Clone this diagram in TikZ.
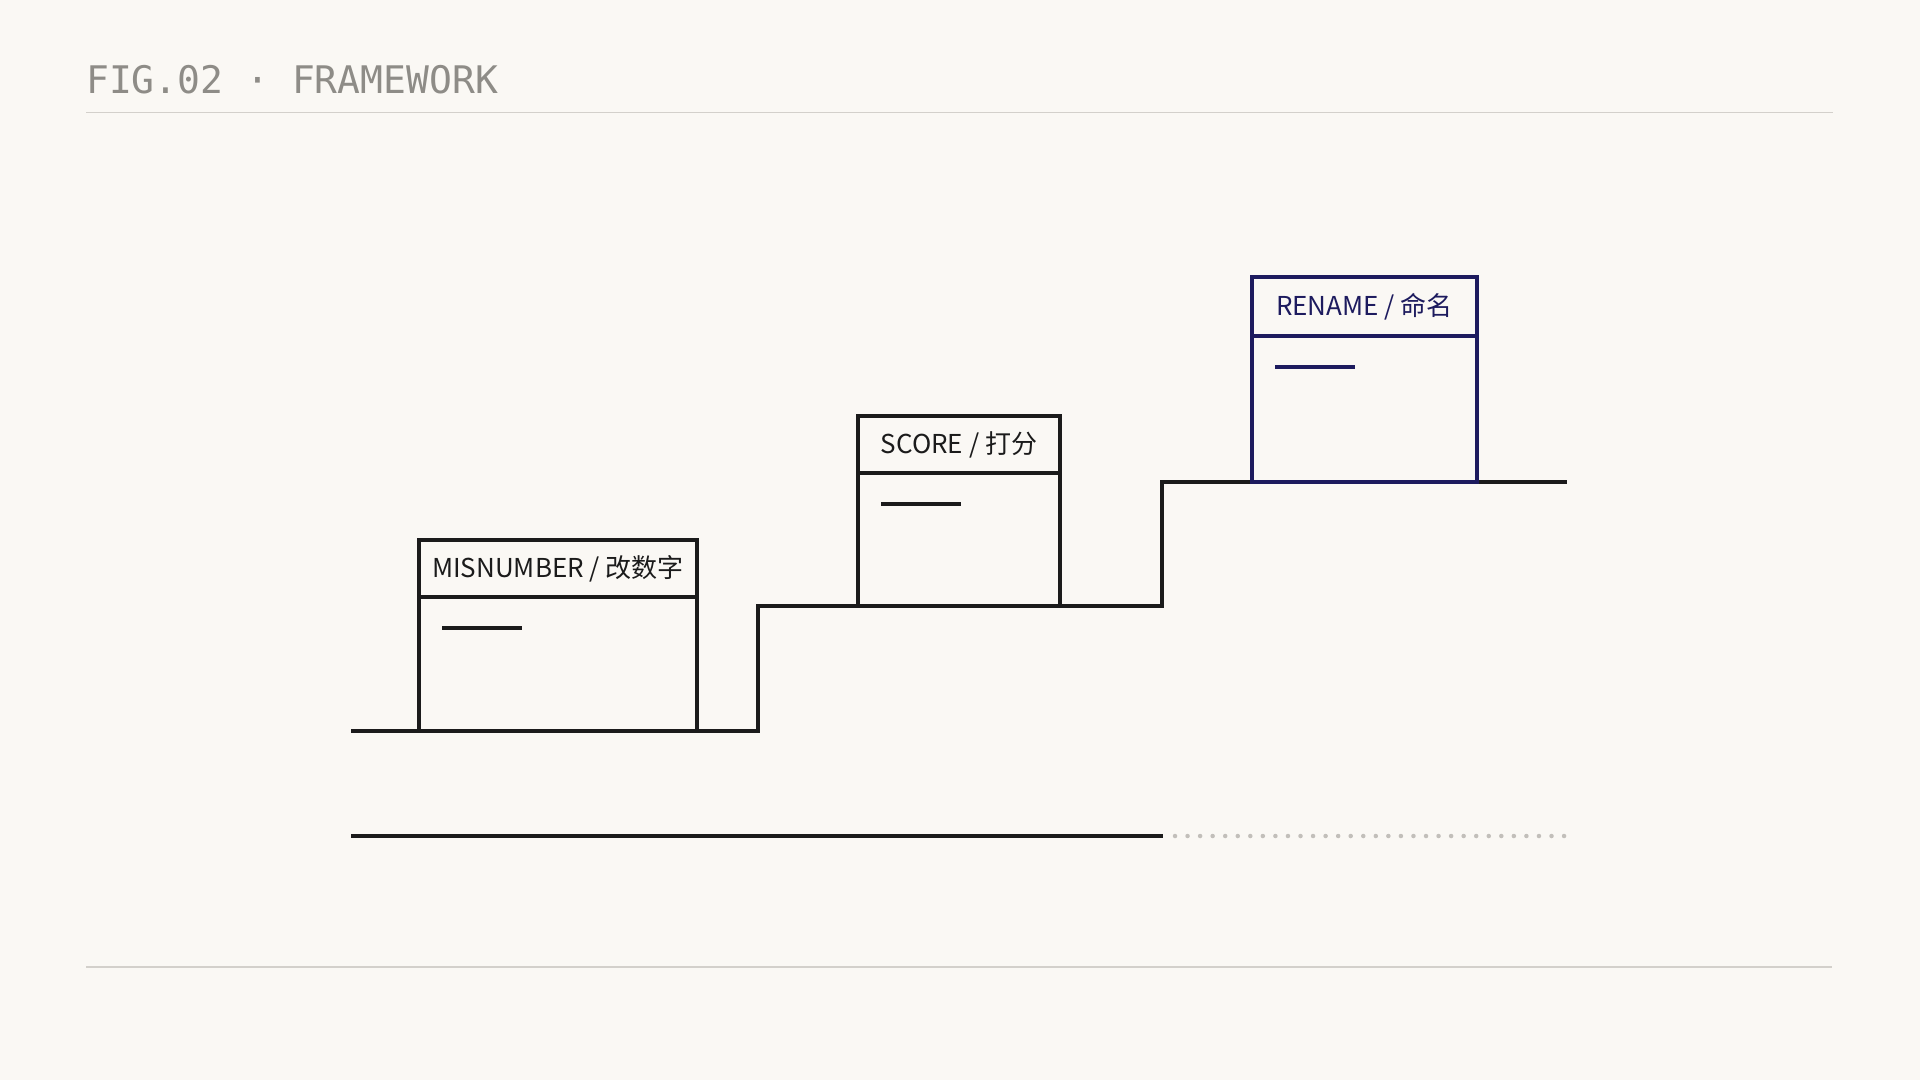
\documentclass[tikz,border=0pt]{standalone}
\usepackage{fontspec}
\setmonofont{DejaVu Sans Mono}
\newfontfamily\cjk{Noto Sans CJK SC}
\usetikzlibrary{positioning}
\definecolor{fond}{HTML}{FAF8F4}
\definecolor{encre}{HTML}{1B1B1B}
\definecolor{marine}{HTML}{1D1B5E}
\definecolor{grisTitre}{HTML}{8E8C87}
\definecolor{regle}{HTML}{D3D0CB}
\definecolor{pointille}{HTML}{C2BFBA}

\begin{document}
\begin{tikzpicture}[x=1pt,y=-1pt]
 % style des noeuds
  \tikzstyle{titre}=[anchor=base west,inner sep=0pt,text=grisTitre,font=\ttfamily\fontsize{38}{44}\selectfont]
  \tikzstyle{entete}=[rectangle,draw=encre,line width=3.4pt,inner sep=0pt,outer sep=0pt,anchor=north west,minimum height=57pt,font=\cjk\fontsize{26}{30}\selectfont,text=encre]
  \tikzstyle{corps}=[rectangle,draw=encre,line width=3.4pt,inner sep=0pt,outer sep=0pt,anchor=north]
 % style des traits
  \tikzstyle{marche}=[draw=encre,line width=3.4pt]
  \tikzstyle{trait}=[draw=encre,line width=3.4pt]
  \tikzstyle{regles}=[draw=regle,line width=1.2pt]
 % fond et cadre
  \fill[fond] (0,0) rectangle (1920,1080);
  \useasboundingbox (0,0) rectangle (1920,1080);
 % titre et regles
  \node[titre] (titre) at (86,93) {FIG.02 · FRAMEWORK};
  \coordinate (rh0) at (86,112.5);
  \coordinate (rh1) at (1833,112.5);
  \coordinate (rb0) at (86,967);
  \coordinate (rb1) at (1832,967);
  \draw[regles] (rh0) -- (rh1);
  \draw[regles] (rb0) -- (rb1);
 % escalier
  \coordinate (depart) at (351,731);
  \coordinate (palier1) at (758,606);
  \coordinate (palier2) at (1162,482);
  \coordinate (fin) at (1567,482);
  \draw[marche] (depart) -| (palier1) -| (palier2) -- (fin);
 % placement des boites
  \node[entete,minimum width=278pt] (tete1) at (419,540) {MISNUMBER / 改数字};
  \node[corps,minimum width=278pt,minimum height=134pt] (corps1) at (tete1.south) {};
  \node[entete,minimum width=202pt] (tete2) at (858,416) {SCORE / 打分};
  \node[corps,minimum width=202pt,minimum height=133pt] (corps2) at (tete2.south) {};
  \node[entete,minimum width=225pt,minimum height=59pt,draw=marine,text=marine] (tete3) at (1252,277) {RENAME / 命名};
  \node[corps,minimum width=225pt,minimum height=146pt,draw=marine] (corps3) at (tete3.south) {};
 % petits traits
  \draw[trait] ([xshift=23pt,yshift=-31pt]corps1.north west) -- ++(80,0);
  \draw[trait] ([xshift=23pt,yshift=-31pt]corps2.north west) -- ++(80,0);
  \draw[trait,draw=marine] ([xshift=23pt,yshift=-31pt]corps3.north west) -- ++(80,0);
 % ligne du temps
  \coordinate (ligne0) at (351,836);
  \coordinate (ligne1) at (1163,836);
  \coordinate (pt0) at (1175,836);
  \coordinate (pt1) at (1566,836);
  \draw[marche] (ligne0) -- (ligne1);
  \draw[pointille,line width=4.5pt,line cap=round,dash pattern=on 0pt off 12.55pt] (pt0) -- (pt1);
\end{tikzpicture}
\end{document}
